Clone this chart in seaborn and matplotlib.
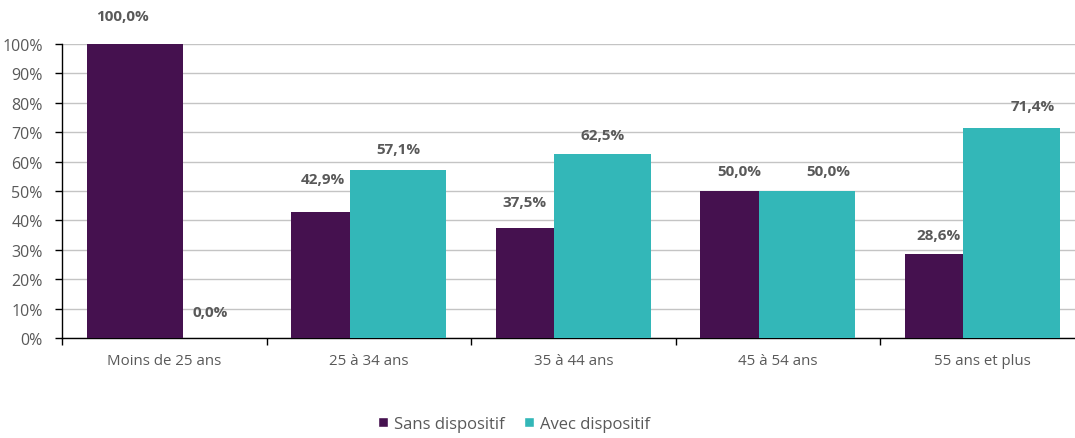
import numpy as np
import pandas as pd
import matplotlib.pyplot as plt
import seaborn as sns
from matplotlib.patches import Patch
from matplotlib.ticker import FixedLocator, PercentFormatter

categories = ["Moins de 25 ans", "25 à 34 ans", "35 à 44 ans", "45 à 54 ans", "55 ans et plus"]
sans = [100.0, 42.9, 37.5, 50.0, 28.6]
avec = [0.0, 57.1, 62.5, 50.0, 71.4]
series_names = ["Sans dispositif", "Avec dispositif"]

PURPLE = "#45114f"
TEAL = "#33b7b8"
TEXT = "#595959"
GRID = "#c4c4c4"

# label nudges (pixels) relative to bar centre / top, as in the original
sans_lbl_dx = [-13, -17, -20, -9, -14]
sans_lbl_dy = [28, 33, 26, 20, 19]
avec_lbl_dx = [17, 0, 0, 21, 21]
avec_lbl_dy = [26, 21, 19, 20, 22]

sns.set_theme(style="white")
plt.rcParams["font.family"] = ["Open Sans", "DejaVu Sans"]

fig = plt.figure(figsize=(10.75, 4.39), dpi=100)
ax = fig.add_axes([62 / 1075, 100 / 439, 1022.5 / 1075, 294 / 439])

df = pd.DataFrame({"cat": categories, "sans": sans, "avec": avec})

bar_w = 0.474
offset = 0.143
for col, color, shift in [("sans", PURPLE, -offset), ("avec", TEAL, offset)]:
    n_before = len(ax.patches)
    sns.barplot(data=df, x="cat", y=col, color=color, width=bar_w,
                saturation=1, ax=ax, zorder=3)
    for p in ax.patches[n_before:]:
        p.set_x(p.get_x() + shift)
        p.set_edgecolor("none")

def fmt(v):
    return f"{v:.1f}".replace(".", ",") + "%"

for i in range(len(categories)):
    ax.annotate(fmt(sans[i]), (i - offset, sans[i]), xytext=(sans_lbl_dx[i], sans_lbl_dy[i]),
                textcoords="offset pixels", ha="center", va="center",
                fontsize=11, fontweight="bold", color=TEXT, annotation_clip=False)
    ax.annotate(fmt(avec[i]), (i + offset, avec[i]), xytext=(avec_lbl_dx[i], avec_lbl_dy[i]),
                textcoords="offset pixels", ha="center", va="center",
                fontsize=11, fontweight="bold", color=TEXT, annotation_clip=False)

ax.set_xlim(-0.5, len(categories) - 0.5)
ax.set_ylim(0, 100)
ax.set_yticks(np.arange(0, 101, 10))
ax.yaxis.set_major_formatter(PercentFormatter(decimals=0))
ax.yaxis.grid(True, color=GRID, linewidth=1)
ax.set_axisbelow(True)
ax.set_xlabel("")
ax.set_ylabel("")

ax.xaxis.set_minor_locator(FixedLocator(np.arange(-0.5, len(categories), 1.0)))
ax.tick_params(axis="x", which="major", length=0, pad=11, labelsize=10.8, labelcolor=TEXT)
ax.tick_params(axis="x", which="minor", length=5, width=1, color="black", direction="out", bottom=True)
ax.tick_params(axis="y", length=5, width=1, color="black", direction="out", left=True,
               pad=9, labelsize=11.5, labelcolor=TEXT)

for side in ["top", "right"]:
    ax.spines[side].set_visible(False)
for side in ["left", "bottom"]:
    ax.spines[side].set_color("black")
    ax.spines[side].set_linewidth(1)

handles = [Patch(facecolor=PURPLE, label=series_names[0]),
           Patch(facecolor=TEAL, label=series_names[1])]
fig.legend(handles=handles, loc="center", bbox_to_anchor=(514 / 1075, 1 - 425 / 439),
           ncol=2, frameon=False, fontsize=12, labelcolor=TEXT,
           handlelength=0.6, handleheight=0.6, handletextpad=0.35, columnspacing=1.2)

fig.savefig("out.png", dpi=100)
